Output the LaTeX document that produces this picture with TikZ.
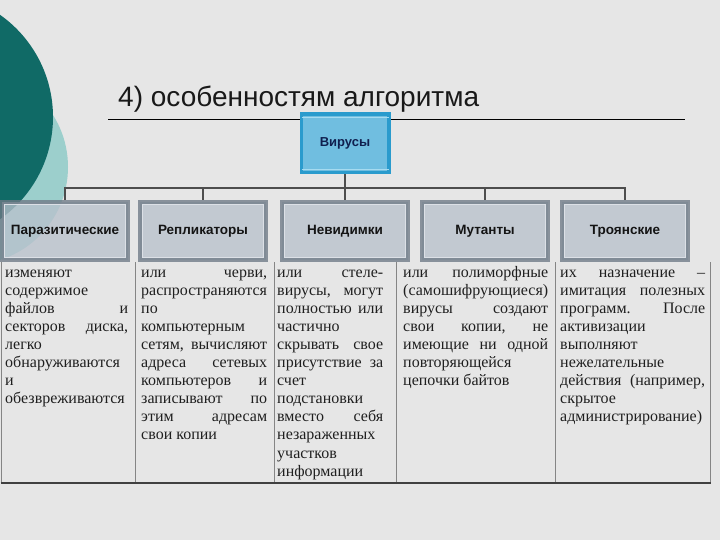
\documentclass[tikz,border=0pt]{standalone}
\usepackage{fontspec}
\setmainfont{Liberation Serif}
\newfontfamily\arialf{Liberation Sans}
\definecolor{bgc}{HTML}{E6E6E6}
\definecolor{dteal}{HTML}{106A66}
\definecolor{lteal}{HTML}{9CCFCC}
\definecolor{vbord}{HTML}{2A9BCD}
\definecolor{vfill}{HTML}{70BEE0}
\definecolor{vlight}{HTML}{A6DBF0}
\definecolor{vtext}{HTML}{10204F}
\definecolor{gbord}{HTML}{6E7A86}
\definecolor{gfill}{HTML}{B9C1CC}
\definecolor{glight}{HTML}{DCE0E6}
\definecolor{conn}{HTML}{4D4D4D}
\definecolor{tline}{HTML}{858585}
\newcommand\Jl[1]{\hbox to\hsize{#1}}
\begin{document}
\begin{tikzpicture}[x=1pt,y=-1pt,
  catbox/.style={draw=gbord, line width=4pt, fill=gfill, fill opacity=0.78, draw opacity=0.78, text opacity=1,
    minimum width=126pt, minimum height=58pt, inner sep=0pt, text=black!92,
    font=\arialf\bfseries\fontsize{13.5}{16}\selectfont},
  topbox/.style={draw=vbord, line width=3.5pt, fill=vfill, minimum width=87.5pt, minimum height=58.5pt,
    inner sep=0pt, text=vtext, font=\arialf\bfseries\fontsize{13}{15}\selectfont},
  connline/.style={draw=conn, line width=2pt},
  tablerule/.style={draw=tline, line width=1pt},
  coltext/.style={inner sep=0pt, anchor=base west, text=black!88, font=\fontsize{16}{18.1}\selectfont}]
\useasboundingbox (0,0) rectangle (720,540);
\fill[bgc] (0,0) rectangle (720,540);
% decorative circles
\fill[lteal] (-29.5,167) circle[radius=97.5pt];
\fill[dteal] (-72,117) circle[radius=125pt];
% title
\node[anchor=base west, inner sep=0pt, font=\arialf\fontsize{28}{32}\selectfont, text=black!90] (title) at (118,107) {4) особенностям алгоритма};
\draw[black, line width=1pt] (108,120) -- (685,120);
% top node
\node[topbox] (v) at (345,143.5) {Вирусы};
\draw[vlight, line width=1pt] ([shift={(2,5)}]v.north west) -- ([shift={(-2,5)}]v.north east);
\draw[vlight, line width=1pt] ([shift={(2,-5)}]v.south west) -- ([shift={(-2,-5)}]v.south east);
% table rules
\foreach \xx in {1.5,135,274,396,555,710}
  \draw[tablerule] (\xx,262) -- (\xx,483);
\draw[draw=black!75, line width=2pt] (0.5,483) -- (711,483);
% category boxes
\node[catbox] (b1) at (65,231) {Паразитические};
\node[catbox] (b2) at (203,231) {Репликаторы};
\node[catbox] (b3) at (345,231) {Невидимки};
\node[catbox] (b4) at (485,231) {Мутанты};
\node[catbox] (b5) at (625,231) {Троянские};
\foreach \b in {b1,b2,b3,b4,b5}
  \draw[glight, line width=0.8pt] ([shift={(4.5,4.5)}]\b.north west) rectangle ([shift={(-4.5,-4.5)}]\b.south east);
% connectors
\coordinate (hub) at (345,188);
\draw[connline] (v) -- (hub);
\foreach \b in {b1,b2,b3,b4,b5}
  \draw[connline] (hub) -| (\b.north);
% column texts
\node[coltext] (c1) at (5,277) {\parbox[t]{123pt}{%
\Jl{изменяют\hfill}\Jl{содержимое\hfill}\Jl{файлов\hfill и}\Jl{секторов\hfill диска,}%
\Jl{легко\hfill}\Jl{обнаруживаются\hfill}\Jl{и\hfill}\Jl{обезвреживаются\hfill}}};
\node[coltext] (c2) at (141,277) {\parbox[t]{126pt}{%
\Jl{или\hfill черви,}\Jl{распространяются\hfill}\Jl{по\hfill}\Jl{компьютерным\hfill}%
\Jl{сетям,\hfill вычисляют}\Jl{адреса\hfill сетевых}\Jl{компьютеров\hfill и}%
\Jl{записывают\hfill по}\Jl{этим\hfill адресам}\Jl{свои копии\hfill}}};
\node[coltext] (c3) at (277,277) {\parbox[t]{106pt}{%
\Jl{или\hfill стеле-}\Jl{вирусы,\hfill могут}\Jl{полностью\hfill или}\Jl{частично\hfill}%
\Jl{скрывать\hfill свое}\Jl{присутствие\hfill за}\Jl{счет\hfill}\Jl{подстановки\hfill}%
\Jl{вместо\hfill себя}\Jl{незараженных\hfill}\Jl{участков\hfill}\Jl{информации\hfill}}};
\node[coltext] (c4) at (403,277) {\parbox[t]{145pt}{%
\Jl{или\hfill полиморфные}\Jl{(самошифрующиеся)\hfill}\Jl{вирусы\hfill создают}%
\Jl{свои\hfill копии,\hfill не}\Jl{имеющие\hfill ни\hfill одной}\Jl{повторяющейся\hfill}%
\Jl{цепочки байтов\hfill}}};
\node[coltext] (c5) at (560,277) {\parbox[t]{145pt}{%
\Jl{их\hfill назначение\hfill –}\Jl{имитация\hfill полезных}\Jl{программ.\hfill После}%
\Jl{активизации\hfill}\Jl{выполняют\hfill}\Jl{нежелательные\hfill}%
\Jl{действия\hfill (например,}\Jl{скрытое\hfill}\Jl{администрирование)\hfill}}};
\end{tikzpicture}
\end{document}
